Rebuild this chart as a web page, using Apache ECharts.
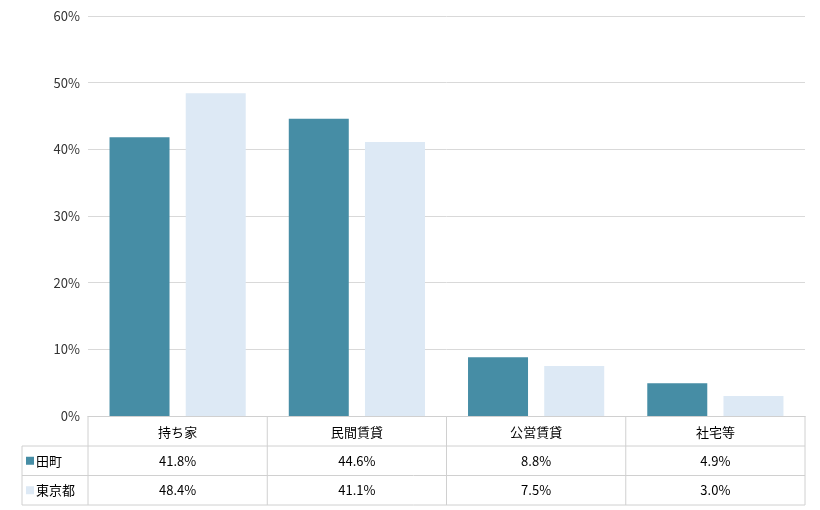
<!DOCTYPE html>
<html>
<head>
<meta charset="utf-8">
<script src="https://cdn.jsdelivr.net/npm/echarts@6/dist/echarts.min.js"></script>
</head>
<body style="margin:0">
<div id="main" style="width:820px;height:510px;"></div>
<script>
var categories = ['持ち家', '民間賃貸', '公営賃貸', '社宅等'];
var seriesNames = ['田町', '東京都'];
var tamachi = [41.8, 44.6, 8.8, 4.9];
var tokyo = [48.4, 41.1, 7.5, 3.0];
var colors = ['#468da5', '#dde9f5'];

var font = '"Noto Sans CJK JP", sans-serif';
var L = 88, R = 805, T = 16, B = 416, rowH = 29.5, labelL = 22;
var colW = (R - L) / categories.length;
var lineStyle = { stroke: '#d0d0d0', lineWidth: 1 };
var g = [];
function line(x1, y1, x2, y2) {
  g.push({ type: 'line', shape: { x1: x1, y1: y1, x2: x2, y2: y2 }, style: lineStyle, silent: true });
}
// table frame
line(L, B + 30, R, B + 30);
line(labelL, B + 30, labelL, B + 30 + 2 * rowH);
line(labelL, B + 30, L, B + 30);
line(labelL, B + 30 + rowH, R, B + 30 + rowH);
line(labelL, B + 30 + 2 * rowH, R, B + 30 + 2 * rowH);
for (var i = 0; i <= categories.length; i++) line(L + i * colW, B, L + i * colW, B + 30 + 2 * rowH);
[tamachi, tokyo].forEach(function (vals, r) {
  var cy = B + 30 + rowH * r + rowH / 2;
  g.push({ type: 'rect', shape: { x: 26, y: cy - 4, width: 8, height: 8 }, style: { fill: colors[r] } });
  g.push({ type: 'text', style: { text: seriesNames[r], x: 36, y: cy, verticalAlign: 'middle', font: '13px ' + font, fill: '#000' } });
  vals.forEach(function (v, c) {
    g.push({ type: 'text', style: { text: v.toFixed(1) + '%', x: L + colW * (c + 0.5), y: cy, align: 'center', verticalAlign: 'middle', font: '13px ' + font, fill: '#000' } });
  });
});

var chart = echarts.init(document.getElementById('main'));
chart.setOption({
  animation: false,
  textStyle: { fontFamily: font },
  grid: { left: L, right: 820 - R, top: T, bottom: 510 - B },
  xAxis: {
    type: 'category', data: categories,
    axisLine: { lineStyle: { color: '#d0d0d0' } }, axisTick: { show: false },
    axisLabel: { color: '#000', fontSize: 13, margin: 10 }
  },
  yAxis: {
    type: 'value', min: 0, max: 60, interval: 10,
    axisLabel: { formatter: '{value}%', color: '#333', fontSize: 13 },
    splitLine: { lineStyle: { color: '#d9d9d9' } }
  },
  series: [
    { name: seriesNames[0], type: 'bar', data: tamachi, barWidth: 60, barGap: '27%', itemStyle: { color: colors[0] } },
    { name: seriesNames[1], type: 'bar', data: tokyo, barWidth: 60, itemStyle: { color: colors[1] } }
  ],
  graphic: g
});
</script>
</body>
</html>
